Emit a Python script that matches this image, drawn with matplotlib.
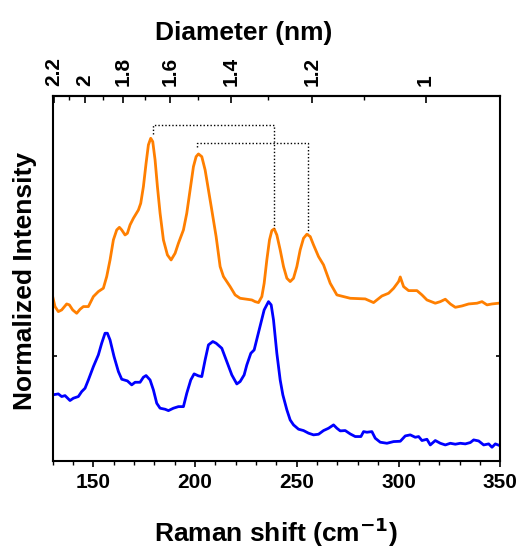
import numpy as np
import matplotlib
matplotlib.use("Agg")
import matplotlib.pyplot as plt
from matplotlib.ticker import FixedLocator, NullFormatter

plt.rcParams["font.family"] = ["Liberation Sans", "DejaVu Sans"]
plt.rcParams["font.weight"] = "bold"

# spektrum oranye (Raman shift, intensitas ternormalisasi)
orange_x = [130.08, 131.23, 132.87, 134.51, 136.97, 138.28, 139.92, 141.88, 143.52, 145.16,
            147.62, 150.07, 152.53, 154.99, 156.63, 158.27, 159.91, 161.55, 162.86, 164.01,
            165.64, 166.79, 168.10, 169.74, 172.20, 173.35, 174.66, 175.97, 177.11, 178.26,
            179.25, 180.39, 181.54, 182.85, 184.49, 186.45, 188.26, 190.23, 191.86, 194.32,
            195.96, 197.60, 199.24, 200.55, 201.70, 203.34, 204.98, 206.61, 208.25, 210.38,
            212.35, 213.99, 217.27, 219.72, 222.18, 225.46, 227.92, 229.56, 231.20, 232.84,
            233.98, 235.29, 236.60, 237.75, 238.90, 240.21, 241.85, 243.49, 245.13, 246.76,
            248.40, 250.04, 251.68, 253.32, 254.96, 256.60, 258.24, 260.69, 263.15, 266.43,
            269.71, 276.27, 283.64, 287.73, 291.83, 295.11, 297.57, 300.02, 300.84, 302.48,
            304.94, 309.04, 311.50, 313.95, 318.05, 320.51, 322.97, 325.43, 327.89, 331.17,
            334.44, 338.54, 341.00, 343.46, 345.91, 349.19]
orange_y = [1.565, 1.470, 1.422, 1.438, 1.495, 1.486, 1.438, 1.406, 1.444, 1.470,
            1.470, 1.565, 1.613, 1.645, 1.756, 1.914, 2.105, 2.200, 2.225, 2.200,
            2.152, 2.168, 2.248, 2.311, 2.390, 2.454, 2.613, 2.835, 3.010, 3.073,
            3.041, 2.867, 2.613, 2.359, 2.105, 1.962, 1.914, 1.978, 2.073, 2.200,
            2.359, 2.581, 2.803, 2.898, 2.924, 2.898, 2.771, 2.581, 2.390, 2.137,
            1.851, 1.756, 1.660, 1.581, 1.549, 1.540, 1.533, 1.517, 1.508, 1.565,
            1.692, 1.914, 2.105, 2.194, 2.210, 2.152, 2.010, 1.851, 1.740, 1.708,
            1.740, 1.851, 2.010, 2.121, 2.159, 2.137, 2.057, 1.946, 1.867, 1.692,
            1.581, 1.549, 1.543, 1.508, 1.571, 1.597, 1.644, 1.708, 1.752, 1.660,
            1.622, 1.622, 1.581, 1.533, 1.502, 1.517, 1.540, 1.495, 1.463, 1.476,
            1.495, 1.502, 1.517, 1.486, 1.495, 1.502]

# spektrum biru
blue_x = [130.08, 132.87, 134.51, 136.15, 138.60, 140.24, 142.70, 144.34, 145.98, 147.62,
          150.08, 152.53, 154.17, 155.81, 156.96, 158.27, 160.23, 162.37, 164.01, 166.79,
          168.92, 170.56, 173.02, 174.66, 175.97, 177.93, 179.57, 181.21, 182.85, 185.31,
          186.95, 189.41, 191.86, 194.32, 195.96, 197.93, 199.57, 201.70, 203.34, 204.98,
          206.61, 208.75, 210.38, 213.17, 215.63, 218.09, 220.55, 222.18, 224.15, 225.46,
          227.43, 229.07, 230.70, 232.34, 233.98, 236.11, 237.43, 238.57, 240.21, 241.85,
          243.16, 245.13, 246.76, 248.40, 250.86, 253.32, 255.78, 258.24, 260.69, 263.15,
          265.61, 268.07, 269.71, 271.35, 273.81, 276.26, 278.72, 281.51, 282.82, 284.46,
          286.91, 288.55, 291.01, 294.29, 297.57, 300.85, 303.30, 305.76, 308.22, 309.86,
          311.50, 313.95, 315.59, 318.05, 320.51, 322.97, 325.43, 327.89, 330.34, 332.80,
          335.26, 336.90, 339.36, 341.82, 344.28, 345.91, 347.55, 349.69]
blue_y = [0.629, 0.638, 0.613, 0.622, 0.575, 0.597, 0.613, 0.660, 0.692, 0.771,
          0.898, 1.010, 1.121, 1.216, 1.216, 1.152, 0.994, 0.851, 0.778, 0.762,
          0.724, 0.749, 0.749, 0.797, 0.813, 0.771, 0.676, 0.549, 0.502, 0.492,
          0.479, 0.502, 0.517, 0.517, 0.644, 0.771, 0.829, 0.810, 0.803, 0.962,
          1.105, 1.137, 1.121, 1.073, 0.946, 0.819, 0.733, 0.756, 0.819, 0.914,
          1.025, 1.057, 1.184, 1.311, 1.438, 1.517, 1.486, 1.343, 1.025, 0.771,
          0.629, 0.486, 0.390, 0.343, 0.302, 0.289, 0.264, 0.248, 0.254, 0.289,
          0.311, 0.343, 0.311, 0.286, 0.289, 0.257, 0.232, 0.232, 0.279, 0.273,
          0.279, 0.216, 0.178, 0.168, 0.184, 0.187, 0.238, 0.248, 0.225, 0.232,
          0.194, 0.206, 0.152, 0.194, 0.168, 0.152, 0.168, 0.159, 0.168, 0.162,
          0.175, 0.200, 0.190, 0.152, 0.162, 0.130, 0.162, 0.146]

# garis putus-putus penghubung puncak
bracket1_x = [179.4, 179.4, 238.9, 238.9]
bracket1_y = [3.114, 3.200, 3.200, 2.219]
bracket2_x = [201.0, 201.0, 255.6, 255.6]
bracket2_y = [2.990, 3.029, 3.029, 2.171]

# sumbu atas: diameter (nm)
diam_ticks = [2.2, 2.0, 1.8, 1.6, 1.4, 1.2, 1.0]
diam_labels = ["2.2", "2", "1.8", "1.6", "1.4", "1.2", "1"]
diam_minor = [2.1, 1.9, 1.7, 1.5, 1.3, 1.1]
A, B = 334.8, -21.5


def to_diam(w):
    w = np.asarray(w, dtype=float)
    return A / np.clip(w - B, 1e-6, None)


def to_shift(d):
    d = np.asarray(d, dtype=float)
    return A / np.clip(d, 1e-6, None) + B


fig = plt.figure(figsize=(5.25, 5.5), dpi=100)
ax = fig.add_axes([0.1, 0.162, 0.853, 0.6635])

ax.plot(orange_x, orange_y, color="#FF7F00", lw=2)
ax.plot(blue_x, blue_y, color="#0000FF", lw=2)
ax.plot(bracket1_x, bracket1_y, color="black", lw=1, ls=(0, (1, 1.5)))
ax.plot(bracket2_x, bracket2_y, color="black", lw=1, ls=(0, (1, 1.5)))

ax.set_xlim(130, 350)
ax.set_ylim(0, 3.476)
ax.set_xticks([150, 200, 250, 300, 350])
ax.set_xticks(np.arange(130, 351, 10), minor=True)
ax.set_yticks([0, 1])
ax.yaxis.set_major_formatter(NullFormatter())
ax.tick_params(axis="x", which="major", direction="out", length=4, width=1.2,
               labelsize=15, pad=5, top=False)
ax.tick_params(axis="x", which="minor", direction="out", length=3, width=1, top=False)
ax.tick_params(axis="y", direction="in", length=3, width=1.2, right=True)
for s in ax.spines.values():
    s.set_linewidth(1.5)

sec = ax.secondary_xaxis("top", functions=(to_diam, to_shift))
sec.xaxis.set_major_locator(FixedLocator(diam_ticks))
sec.xaxis.set_minor_locator(FixedLocator(diam_minor))
sec.set_xticklabels(diam_labels, rotation=90, fontsize=15, fontweight="bold")
sec.tick_params(axis="x", which="major", direction="in", length=5, width=1.2, pad=7)
sec.tick_params(axis="x", which="minor", direction="in", length=3, width=1)
sec.spines["top"].set_linewidth(1.5)

fig.text(0.525, 0.033, "Raman shift (cm$^{\\mathbf{-1}}$)", fontsize=19,
         fontweight="bold", ha="center", va="center")
fig.text(0.465, 0.94, "Diameter (nm)", fontsize=19, fontweight="bold",
         ha="center", va="center")
fig.text(0.048, 0.489, "Normalized Intensity", fontsize=19, fontweight="bold",
         rotation=90, ha="center", va="center")

fig.savefig("out.png", dpi=100)
